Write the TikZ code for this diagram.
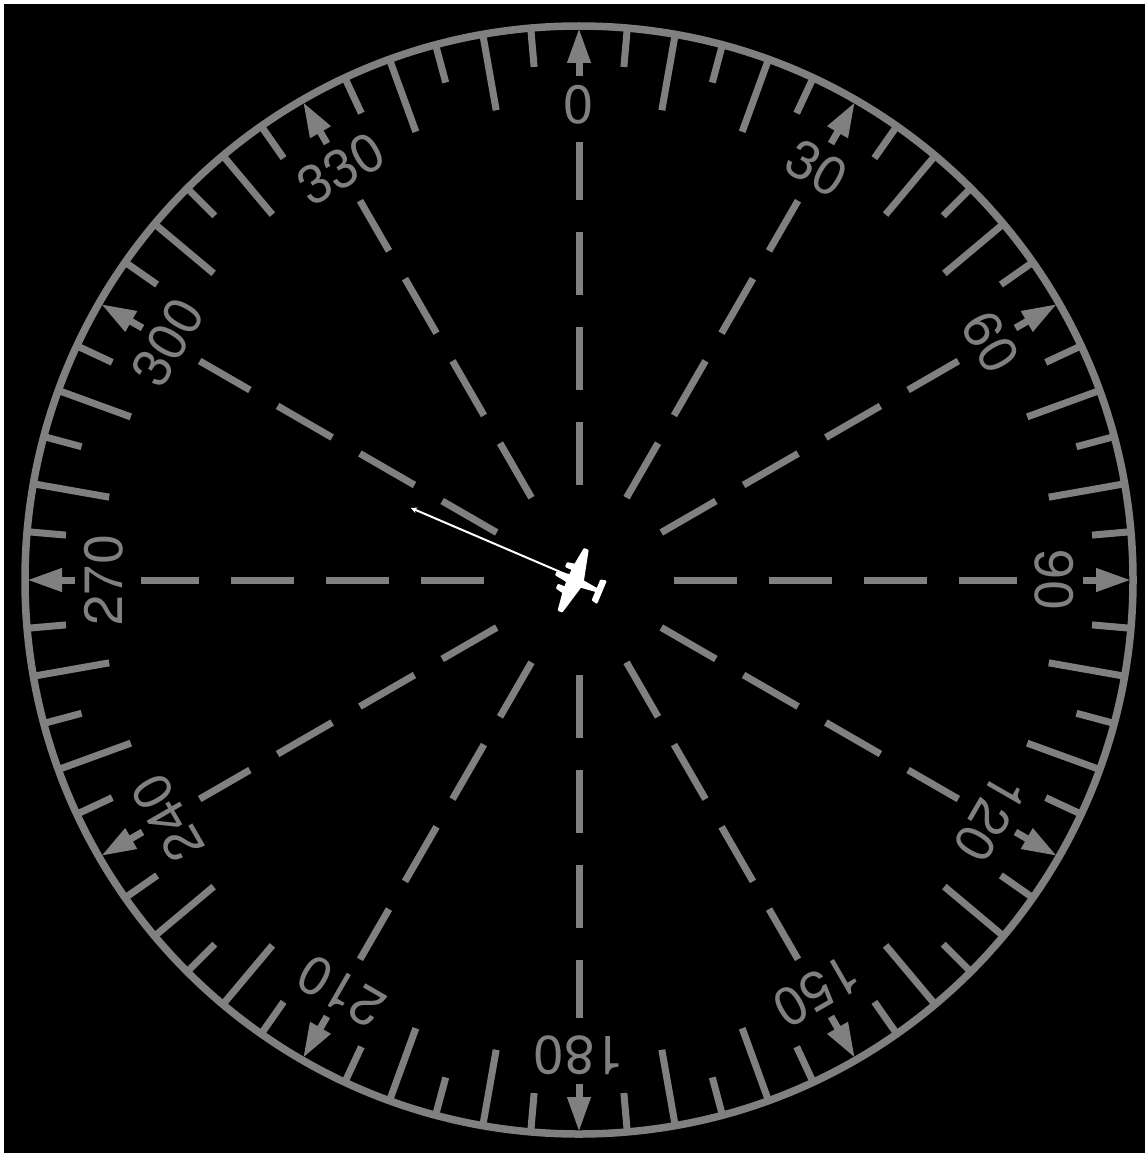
\documentclass[tikz,border=0pt]{standalone}
\usepackage{fontspec}
\setmainfont{TeX Gyre Heros}
\usetikzlibrary{arrows.meta}
\definecolor{dialgray}{RGB}{128,128,128}

\begin{document}
\begin{tikzpicture}[x=1pt, y=1pt,
    dialline/.style={draw=dialgray, line width=7pt},
    spoke/.style={dialline, dash pattern=on 63pt off 32pt},
    pointer/.style={dialline, -{Triangle[length=35pt, width=22pt, fill=dialgray]}},
    bearing/.style={text=dialgray, inner sep=0pt, font=\fontsize{54}{54}\selectfont}]
  \useasboundingbox (0,0) rectangle (1145,-1153);
  \fill[white] (0,0) rectangle (1145,-1153);
  \fill[black] (4,-4) rectangle (1145,-1153);

  \begin{scope}[shift={(579,-580)}]
    \coordinate (centre) at (0,0);
    % ticks and rim
    \foreach \b in {5,15,...,355}
      \draw[dialline] (90-\b:515) -- (90-\b:554);
    \foreach \b in {10,20,40,50,70,80,100,110,130,140,160,170,190,200,220,230,250,260,280,290,310,320,340,350}
      \draw[dialline] (90-\b:477) -- (90-\b:554);
    \draw[dialline, line width=7.5pt] (centre) circle (554);

    % spokes, pointers and labels
    \foreach \b in {0,30,...,330} {
      \draw[spoke] (90-\b:95) -- (90-\b:438);
      \draw[pointer] (90-\b:504) -- (90-\b:552);
      \node[bearing, rotate=-\b] (label\b) at (90-\b:475) {\b};
    }

    % track vector
    \coordinate (vectorend) at (-168,72);
    \draw[white, line width=2pt, -{Stealth[length=6pt, width=6pt]}] (centre) -- (vectorend);

    % aircraft
    \begin{scope}[shift={(-1,-2.3)}, rotate=67.2]
      \fill[white, draw=white, line width=2pt, line join=round]
        (-1.5,23) -- (1.5,23) -- (3,12) -- (4,10) -- (10,10) -- (10,17) -- (13.5,17) -- (15,9.5)
        -- (33,7) -- (33,3.5) -- (3,-4) -- (1,-20.5) -- (10.5,-20.5) -- (11.5,-25) -- (-11.5,-25) -- (-10.5,-20.5)
        -- (-1,-20.5) -- (-3,-4) -- (-33,3.5) -- (-33,7) -- (-15,9.5) -- (-13.5,17) -- (-10,17) -- (-10,10)
        -- (-4,10) -- (-3,12) -- cycle;
    \end{scope}
  \end{scope}
\end{tikzpicture}
\end{document}
